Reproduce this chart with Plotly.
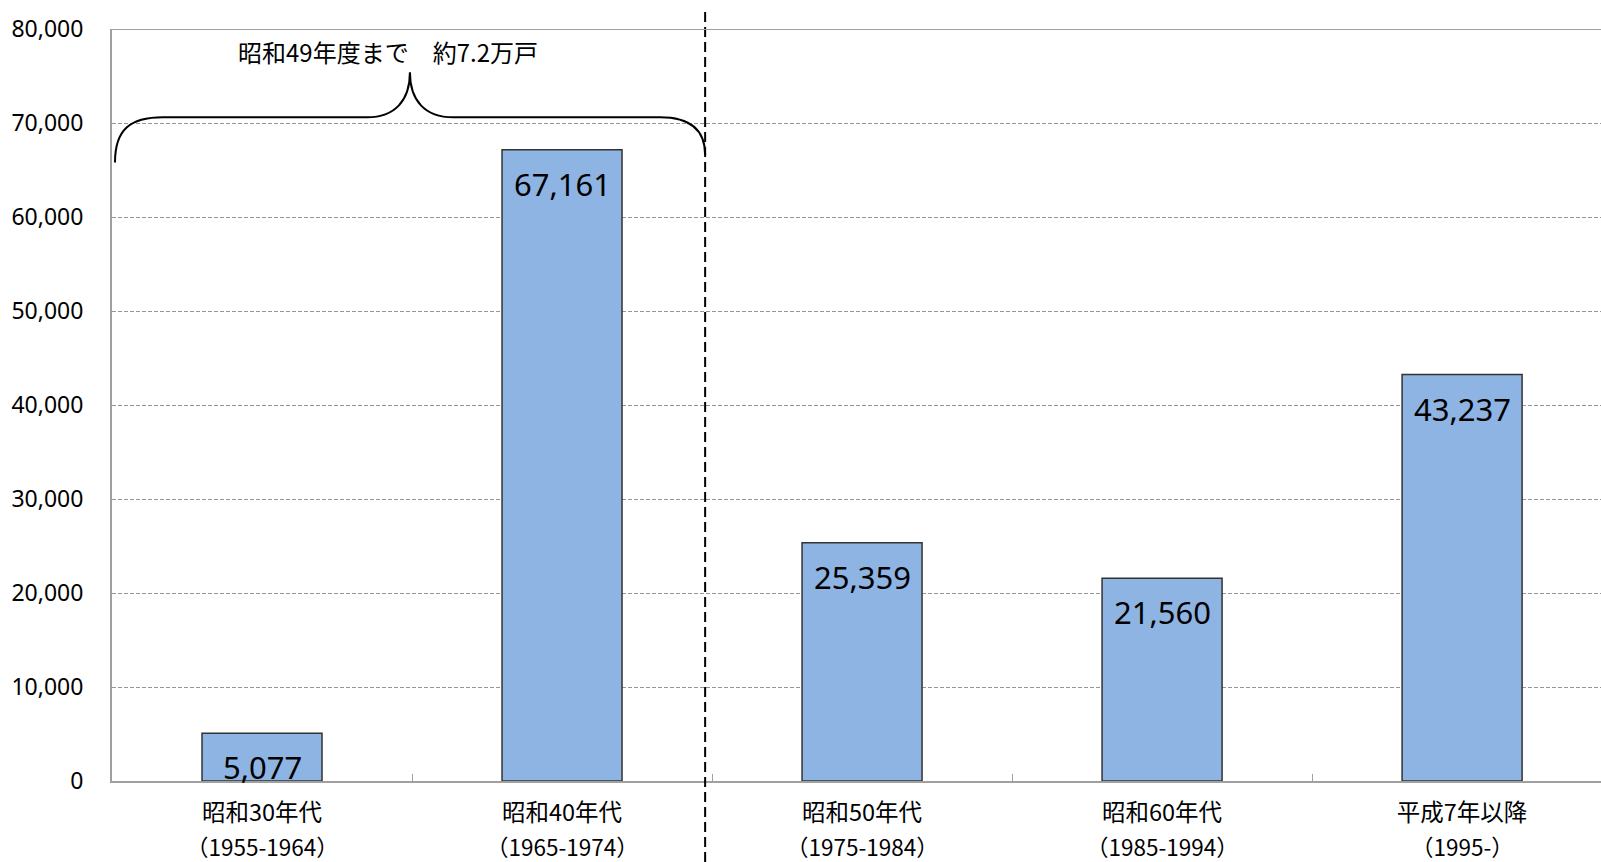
import plotly.graph_objects as go

# ---- data ----
categories = ["昭和30年代", "昭和40年代", "昭和50年代", "昭和60年代", "平成7年以降"]
periods = ["（1955-1964）", "（1965-1974）", "（1975-1984）", "（1985-1994）", "（1995-）"]
units = [5077, 67161, 25359, 21560, 43237]
y_ticks = [0, 10000, 20000, 30000, 40000, 50000, 60000, 70000, 80000]
note_text = "昭和49年度まで　約7.2万戸"

x_pos = list(range(len(categories)))

X_MIN, X_MAX = -0.5, 4.463
Y_MIN, Y_MAX = 0, 80000

fig = go.Figure()
fig.add_trace(go.Bar(
    x=x_pos, y=units, width=0.4,
    marker=dict(color="#8EB4E3", line=dict(color="#333333", width=1.5)),
    hoverinfo="skip", showlegend=False,
))

# value labels inside top of each bar
for xi, v in zip(x_pos, units):
    fig.add_annotation(x=xi, y=v, xref="x", yref="y", text=f"{v:,}",
                       showarrow=False, yanchor="top", yshift=-11,
                       font=dict(family="Noto Sans, sans-serif", size=31, color="#000000"))

# second line of category labels (period)
for xi, p in zip(x_pos, periods):
    fig.add_annotation(x=xi, y=-0.0866, xref="x", yref="paper", text=p,
                       showarrow=False, yanchor="middle", xanchor="center", borderpad=0,
                       font=dict(family="Noto Sans CJK JP", size=22.5, color="#000000"))

# note above the brace
fig.add_annotation(x=0.42, y=77600, xref="x", yref="y", text=note_text, showarrow=False,
                   xanchor="center", yanchor="middle",
                   font=dict(family="Noto Sans CJK JP", size=24, color="#000000"))

# curly brace (data coordinates)
brace = ("M -0.49,65800 C -0.49,69300 -0.44,70600 -0.33,70600 "
         "L 0.35,70600 C 0.443,70600 0.493,72400 0.493,75400 "
         "C 0.493,72400 0.543,70600 0.637,70600 "
         "L 1.327,70600 C 1.427,70600 1.477,69300 1.477,66600")
fig.add_shape(type="path", path=brace, xref="x", yref="y",
              line=dict(color="#000000", width=2))

# vertical dashed separator
sep_x = (1.477 - X_MIN) / (X_MAX - X_MIN)
fig.add_shape(type="line", xref="paper", yref="paper", x0=sep_x, x1=sep_x,
              y0=1.0226, y1=-0.11, line=dict(color="#000000", width=2, dash="10px,5px"))

# solid top line at 80,000
fig.add_shape(type="line", xref="paper", yref="y", x0=0, x1=1, y0=80000, y1=80000,
              line=dict(color="#A0A0A0", width=2))

fig.update_layout(
    width=1601, height=862,
    margin=dict(l=112, r=0, t=29, b=81),
    plot_bgcolor="#FFFFFF", paper_bgcolor="#FFFFFF",
    font=dict(family="Noto Sans CJK JP", color="#000000"),
)
fig.update_xaxes(
    range=[X_MIN, X_MAX], tickvals=x_pos, ticktext=categories,
    tickfont=dict(family="Noto Sans CJK JP", size=23.5, color="#000000"),
    showgrid=False, zeroline=False, showline=True, linecolor="#A0A0A0", linewidth=2,
    ticks="", ticklabelstandoff=10,
    minor=dict(tickvals=[0.5, 1.5, 2.5, 3.5], ticks="inside", ticklen=7,
               tickcolor="#A0A0A0", tickwidth=1, showgrid=False),
)
fig.update_yaxes(
    range=[Y_MIN, Y_MAX], tickvals=y_ticks, tickformat=",",
    tickfont=dict(family="Noto Sans, sans-serif", size=23, color="#000000"),
    showgrid=True, gridcolor="#959595", gridwidth=1, griddash="4px,2px",
    zeroline=False, showline=True, linecolor="#A0A0A0", linewidth=2,
    ticks="", ticklabelstandoff=22,
)

fig.write_html("out.html", config={"displayModeBar": False},
               post_script="document.body.style.margin='0';")
